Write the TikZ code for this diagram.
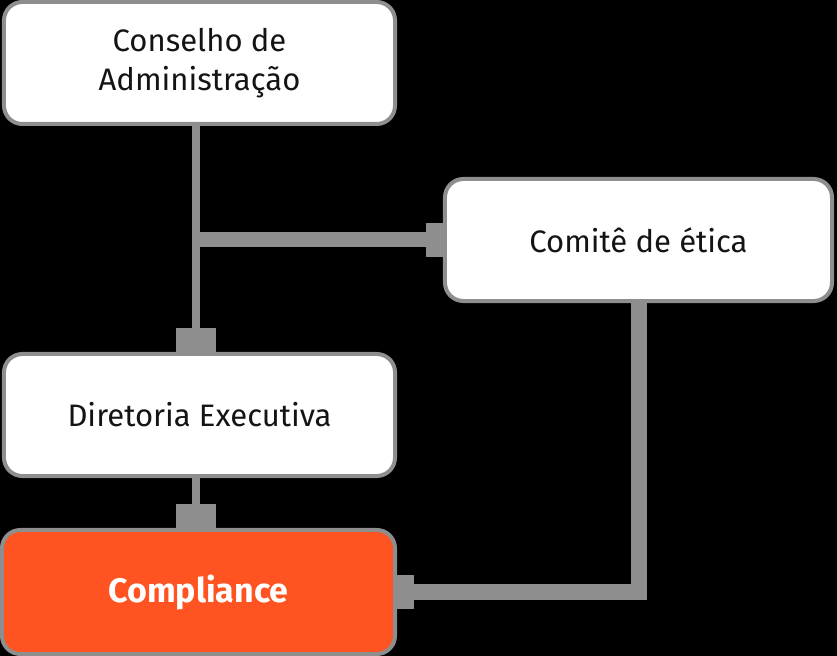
\documentclass[tikz,border=0pt]{standalone}
\usepackage{fontspec}
\setmainfont{Fira Sans}
\usetikzlibrary{arrows.meta}
\definecolor{linegray}{HTML}{8E8E8E}
\definecolor{orgorange}{HTML}{FF5421}

\begin{document}
\begin{tikzpicture}[
    x=0.03cm, y=-0.03cm,
    >={Rectangle[length=0.5cm, width=1.0cm]},
    orgbox/.style={draw=linegray, line width=0.12cm, fill=white, rounded corners=0.55cm, align=center, font=\fontsize{26.5}{33}\selectfont, text=black!92},
    link/.style={draw=linegray, line join=miter}
]
    \useasboundingbox[fill=black] (0,0) rectangle (837,656);

    \node[orgbox, minimum width=11.73cm, minimum height=3.66cm] (conselho) at (199.5,63) {Conselho de\\Administração};
    \node[orgbox, minimum width=11.61cm, minimum height=3.66cm] (comite) at (638.5,240) {Comitê de ética};
    \node[orgbox, minimum width=11.73cm, minimum height=3.66cm] (diretoria) at (199.5,415) {Diretoria Executiva};
    \node[orgbox, fill=orgorange, text=white, font=\fontsize{29}{33}\selectfont\bfseries, minimum width=11.79cm, minimum height=3.72cm] (compliance) at (198.5,592) {Compliance};

    \coordinate (branch) at (196,240);

    \draw[link, ->, line width=0.24cm, >={Rectangle[length=0.72cm, width=1.2cm]}] (conselho.south -| branch) -- (diretoria.north -| branch);
    \draw[link, ->, line width=0.45cm] (branch) -- (comite.west |- branch);
    \draw[link, ->, line width=0.24cm, >={Rectangle[length=0.72cm, width=1.2cm]}] (diretoria.south -| branch) -- (compliance.north -| branch);
    \draw[link, ->, line width=0.48cm] (comite.south) -- (comite.south |- compliance.east) -- (compliance.east);
\end{tikzpicture}
\end{document}
